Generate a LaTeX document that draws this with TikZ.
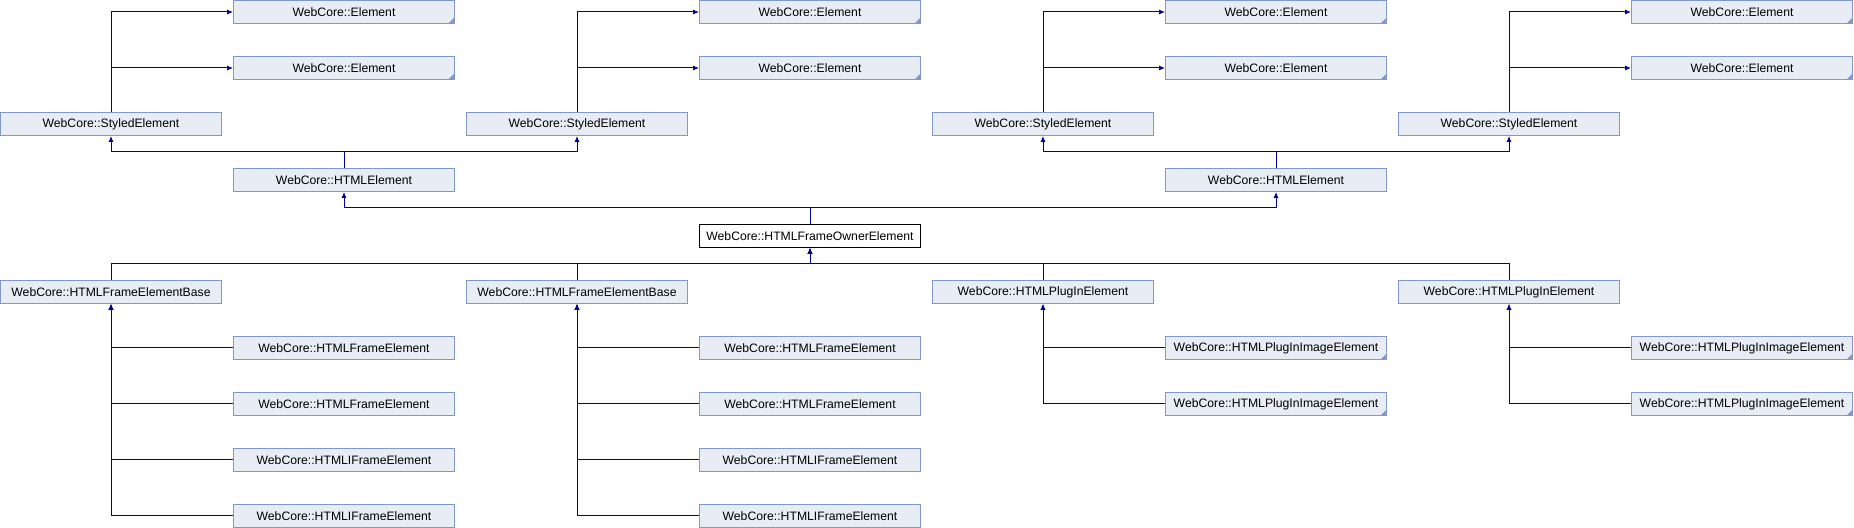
\documentclass[tikz,border=0pt]{standalone}
\usepackage{fontspec}
\setmainfont{Liberation Sans}
\usetikzlibrary{arrows.meta,positioning,calc}
\definecolor{boxfill}{HTML}{E8ECF4}
\definecolor{boxline}{HTML}{8098CC}
\definecolor{linkcolor}{HTML}{000096}
\tikzset{
    class box/.style={draw=boxline, fill=boxfill, line width=0.5pt, anchor=north west, inner sep=0pt,
        minimum width=110.5pt, minimum height=11.5pt, font=\fontsize{6.1}{7}\selectfont},
    focus box/.style={class box, draw=black, fill=white},
    truncated/.style={path picture={\fill[boxline] (path picture bounding box.south east) -- ++(-3pt,0pt) -- ++(3pt,3pt) -- cycle;}},
    link/.style={linkcolor, line width=0.5pt},
    arr/.style={link, -{Latex[length=3pt,width=2.6pt]}},
}

\begin{document}
\begin{tikzpicture}[x=0.5pt, y=-0.5pt]
    \useasboundingbox (0,0) rectangle (1854,528);

    \foreach \c in {1,3,5,7}{
        \node[class box, truncated] (elemA\c) at ({\c*233},0) {WebCore::Element};
        \node[class box, truncated] (elemB\c) at ({\c*233},56) {WebCore::Element};
    }
    \foreach \c/\p in {0/1,2/3,4/5,6/7}{
        \node[class box] (styled\c) at ({\c*233},112) {WebCore::StyledElement};
        \draw[arr] (styled\c.north) |- (elemA\p.west);
        \draw[arr] (styled\c.north) |- (elemB\p.west);
    }
    \foreach \c/\l/\r in {1/0/2,5/4/6}{
        \node[class box] (html\c) at ({\c*233},168) {WebCore::HTMLElement};
        \draw[arr] (html\c.north) -- ++(0,-16) -| (styled\l.south);
        \draw[arr] (html\c.north) -- ++(0,-16) -| (styled\r.south);
    }

    \node[focus box] (owner) at (699,224) {WebCore::HTMLFrameOwnerElement};
    \draw[arr] (owner.north) -- ++(0,-16) -| (html1.south);
    \draw[arr] (owner.north) -- ++(0,-16) -| (html5.south);

    \foreach \c/\name/\txt in {0/base0/HTMLFrameElementBase,2/base2/HTMLFrameElementBase,4/plugin4/HTMLPlugInElement,6/plugin6/HTMLPlugInElement}{
        \node[class box] (\name) at ({\c*233},280) {WebCore::\txt};
        \draw[arr] (\name.north) -- ++(0,-16) -| (owner.south);
    }

    \foreach \c in {0,2}{
        \foreach \r/\k/\txt in {6/a/HTMLFrameElement,7/b/HTMLFrameElement,8/c/HTMLIFrameElement,9/d/HTMLIFrameElement}{
            \node[class box] (sub\c\k) at ({(\c+1)*233},{\r*56}) {WebCore::\txt};
            \draw[arr] (sub\c\k.west) -| (base\c.south);
        }
    }
    \foreach \c in {4,6}{
        \foreach \r/\k in {6/a,7/b}{
            \node[class box, truncated] (img\c\k) at ({(\c+1)*233},{\r*56}) {WebCore::HTMLPlugInImageElement};
            \draw[arr] (img\c\k.west) -| (plugin\c.south);
        }
    }
\end{tikzpicture}
\end{document}
